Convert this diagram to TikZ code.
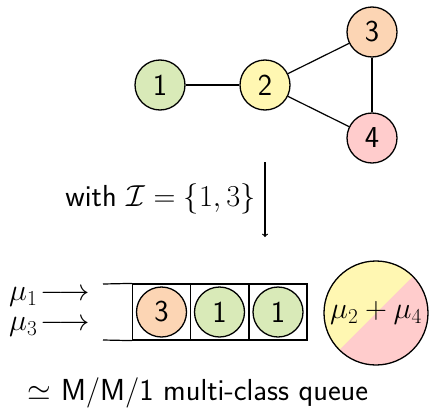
\RequirePackage{fix-cm}
\documentclass[tikz,border=0pt]{standalone}
\usepackage{amssymb}
\definecolor{cgreen}{RGB}{217,234,184}
\definecolor{cyellow}{RGB}{255,247,178}
\definecolor{corange}{RGB}{252,213,180}
\definecolor{cpink}{RGB}{255,204,204}
\begin{document}
\begin{tikzpicture}[x=1pt,y=-1pt,
  every node/.style={font=\sffamily\fontsize{30.4}{36}\selectfont},
  vtx/.style={circle,draw,line width=1.3pt,minimum size=50pt,inner sep=0pt},
  cell/.style={rectangle,draw,line width=1.2pt,minimum width=58pt,minimum height=56pt,inner sep=0pt},
  edge/.style={line width=1.2pt}]
\useasboundingbox (0,0) rectangle (430,415);
% graph
\node[vtx,fill=cgreen] (n1) at (160,85) {1};
\node[vtx,fill=cyellow] (n2) at (265,85) {2};
\node[vtx,fill=corange] (n3) at (372,32) {3};
\node[vtx,fill=cpink] (n4) at (372,138) {4};
\draw[edge] (n1) -- (n2);
\draw[edge] (n2) -- (n3);
\draw[edge] (n2) -- (n4);
\draw[edge] (n3) -- (n4);
% arrow
\coordinate (as) at (265,162);
\coordinate (ae) at (265,237);
\draw[edge,->] (as) -- (ae);
\node[anchor=east] (lab) at (259,199) {with $\mathcal{I}=\{1,3\}$};
% queue
\node[cell] (c1) at (161.5,312) {};
\node[cell] (c2) at (219.5,312) {};
\node[cell] (c3) at (278,312) {};
\coordinate (qt) at (103,284);
\coordinate (qb) at (103,340);
\draw[edge] (qt) -- (c1.north west);
\draw[edge] (qb) -- (c1.south west);
\node[vtx,fill=corange] (q1) at (c1) {3};
\node[vtx,fill=cgreen] (q2) at (c2) {1};
\node[vtx,fill=cgreen] (q3) at (c3) {1};
% server
\node[circle,draw,line width=1.3pt,minimum size=104pt,inner sep=0pt,fill=cpink,
  path picture={\fill[cyellow] (path picture bounding box.north west) -- (path picture bounding box.north east) -- (path picture bounding box.south west) -- cycle;}]
  (srv) at (376,313) {$\mu_2+\mu_4$};
% arrivals
\node[anchor=west,inner sep=0pt] (m1) at (9,297) {$\mu_1\!\longrightarrow$};
\node[anchor=west,inner sep=0pt] (m3) at (9,327) {$\mu_3\!\longrightarrow$};
% caption
\node (cap) at (198,393) {$\simeq$ M/M/1 multi-class queue};
\end{tikzpicture}
\end{document}
